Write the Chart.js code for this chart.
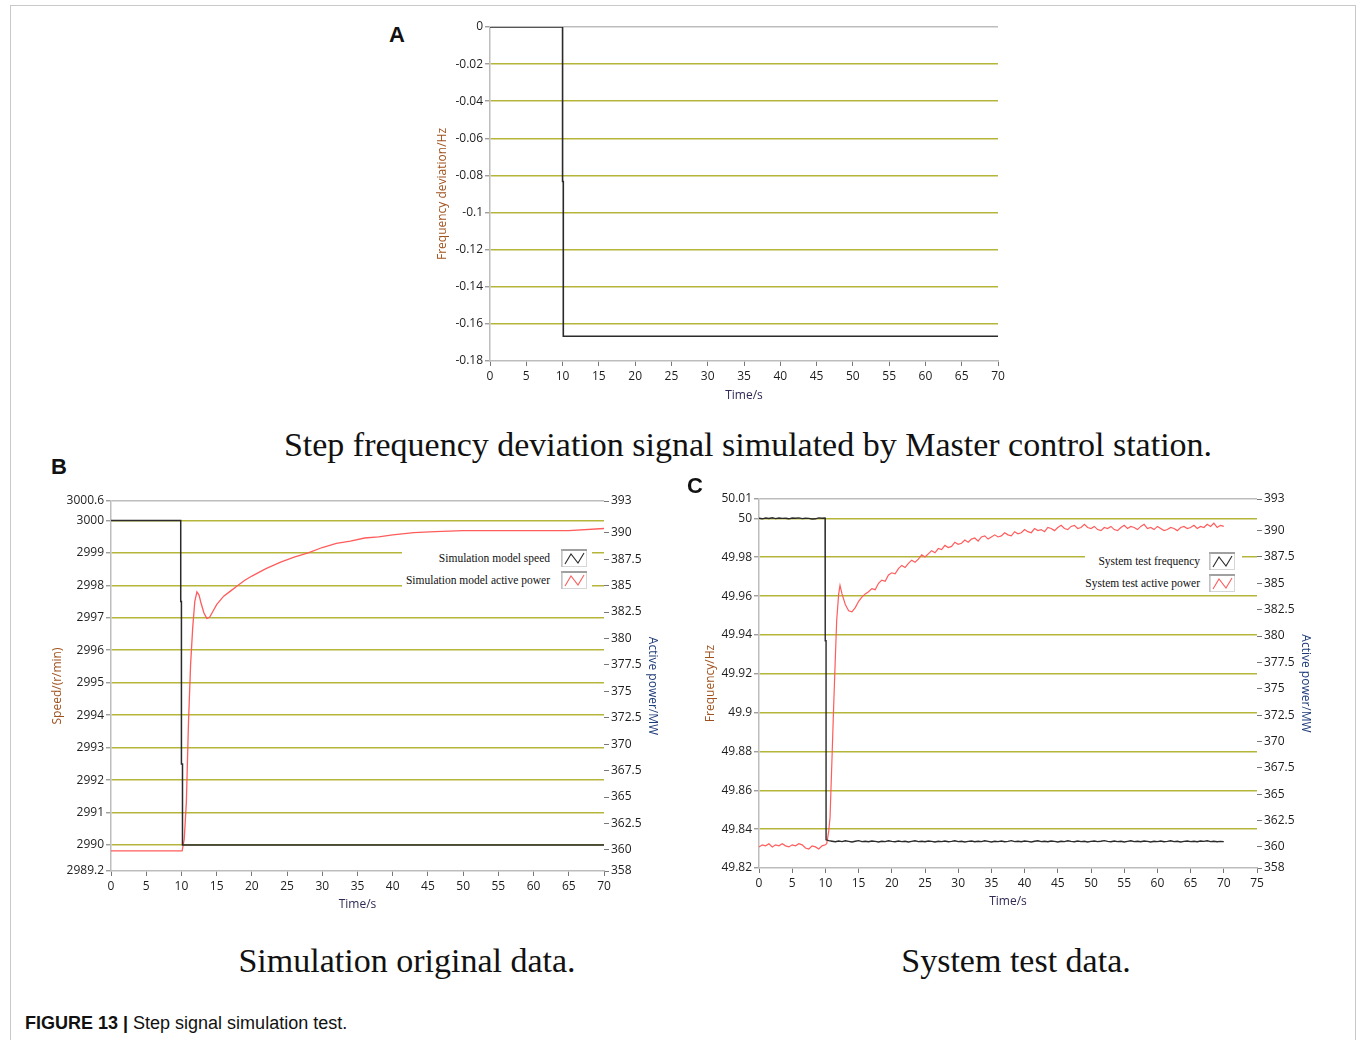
<!DOCTYPE html>
<html>
<head>
<meta charset="utf-8">
<title>Step signal simulation test</title>
<script src="https://cdn.jsdelivr.net/npm/chart.js@4.4.1/dist/chart.umd.min.js"></script>
<style>
  body { margin: 0; background: #fff; width: 1357px; height: 1040px; position: relative; overflow: hidden; }
  .frame { position: absolute; left: 10px; top: 5px; width: 1344px; height: 1060px; border: 1px solid #c9c9c9; }
  canvas { position: absolute; }
  .panel { position: absolute; font: bold 22px "Liberation Sans", Arial, sans-serif; color: #111; transform: translate(-50%, -50%); }
  .sub { position: absolute; font: 34px "Liberation Serif", "Times New Roman", serif; color: #111; transform: translate(-50%, -50%); white-space: nowrap; }
  .legend { position: absolute; background: #fff; }
  .legend span { position: absolute; font: 11.5px "Liberation Serif", "Times New Roman", serif; color: #111; white-space: nowrap; transform: translateY(-50%); }
  .legend svg { position: absolute; }
  .caption { position: absolute; left: 25px; top: 1013px; font: 18px "Liberation Sans", Arial, sans-serif; color: #111; white-space: nowrap; }
</style>
</head>
<body>
<div class="frame"></div>

<canvas id="chartA" width="575" height="388" style="left:435px;top:15px"></canvas>
<canvas id="chartB" width="610" height="422" style="left:50px;top:490px"></canvas>
<canvas id="chartC" width="610" height="421" style="left:703px;top:488px"></canvas>

<div class="panel" style="left:397px;top:35px">A</div>
<div class="panel" style="left:59px;top:467px">B</div>
<div class="panel" style="left:695px;top:486px">C</div>

<div class="sub" style="left:748px;top:445px">Step frequency deviation signal simulated by Master control station.</div>
<div class="sub" style="left:407px;top:961px">Simulation original data.</div>
<div class="sub" style="left:1016px;top:961px">System test data.</div>

<div id="legendB" class="legend" style="left:402px;top:541px;width:190px;height:53px"></div>
<div id="legendC" class="legend" style="left:1085px;top:545px;width:157px;height:49px"></div>

<div class="caption"><b>FIGURE 13 |</b> Step signal simulation test.</div>

<script>
// ---- data (A) step frequency deviation ----
const timeA = [0, 10, 10, 10.1, 10.1, 70];
const freqDevA = [0, 0, -0.0833, -0.0833, -0.1667, -0.1667];
const ticksA = [0, -0.02, -0.04, -0.06, -0.08, -0.1, -0.12, -0.14, -0.16, -0.18];

// ---- data (B) simulation ----
const speedTimeB = [0, 9.9, 9.9, 10, 10, 10.15, 10.15, 70];
const speedB = [3000, 3000, 2997.5, 2997.5, 2992.5, 2992.5, 2990, 2990];
const powerTimeB = [0, 10.1, 10.4, 10.7, 11.0, 11.3, 11.6, 11.9, 12.2, 12.5, 12.8, 13.2, 13.6, 14.0, 14.5, 15.0,
  16, 17, 18, 19, 20, 22, 24, 26, 28, 30, 32, 34, 36, 38, 40, 43, 46, 50, 55, 60, 65, 70];
const powerB = [359.9, 359.9, 361.0, 364.5, 372.0, 377.5, 381.0, 383.5, 384.4, 384.1, 383.3, 382.4, 381.9, 382.0, 382.6, 383.2,
  384.0, 384.5, 385.0, 385.5, 385.9, 386.6, 387.2, 387.7, 388.1, 388.6, 389.0, 389.2, 389.5, 389.6, 389.8, 390.0, 390.1, 390.2, 390.2, 390.2, 390.2, 390.4];
const speedTicksB = [2989.2, 2990, 2991, 2992, 2993, 2994, 2995, 2996, 2997, 2998, 2999, 3000, 3000.6];

// ---- data (C) system test ----
const timeGridC = [0,0.5,1,1.5,2,2.5,3,3.5,4,4.5,5,5.5,6,6.5,7,7.5,8,8.5,9,9.5,10,10.5,11,11.5,12,12.5,13,13.5,14,14.5,
  15,15.5,16,16.5,17,17.5,18,18.5,19,19.5,20,20.5,21,21.5,22,22.5,23,23.5,24,24.5,25,25.5,26,26.5,27,27.5,28,28.5,29,29.5,
  30,30.5,31,31.5,32,32.5,33,33.5,34,34.5,35,35.5,36,36.5,37,37.5,38,38.5,39,39.5,40,40.5,41,41.5,42,42.5,43,43.5,44,44.5,
  45,45.5,46,46.5,47,47.5,48,48.5,49,49.5,50,50.5,51,51.5,52,52.5,53,53.5,54,54.5,55,55.5,56,56.5,57,57.5,58,58.5,59,59.5,
  60,60.5,61,61.5,62,62.5,63,63.5,64,64.5,65,65.5,66,66.5,67,67.5,68,68.5,69,69.5,70];
const freqC = [
  50.0001, 49.9998, 50.0002, 50.0000, 50.0003, 49.9999, 50.0002, 50.0000, 50.0001, 49.9998,
  50.0002, 50.0001, 50.0003, 49.9999, 50.0001, 50.0000, 49.9997, 49.9998, 50.0003, 50.0001,
  49.9370,
  49.8341, 49.8338, 49.8335, 49.8339, 49.8336, 49.8340, 49.8337, 49.8334, 49.8338, 49.8341,
  49.8336, 49.8338, 49.8335, 49.8339, 49.8337, 49.8334, 49.8338, 49.8336, 49.8340, 49.8337,
  49.8335, 49.8339, 49.8336, 49.8338, 49.8334, 49.8337, 49.8340, 49.8336, 49.8338, 49.8335,
  49.8339, 49.8337, 49.8334, 49.8338, 49.8336, 49.8339, 49.8335, 49.8337, 49.8340, 49.8336,
  49.8338, 49.8334, 49.8337, 49.8339, 49.8335, 49.8338, 49.8336, 49.8340, 49.8337, 49.8334,
  49.8338, 49.8336, 49.8339, 49.8335, 49.8337, 49.8341, 49.8336, 49.8338, 49.8335, 49.8339,
  49.8337, 49.8334, 49.8338, 49.8340, 49.8336, 49.8338, 49.8335, 49.8339, 49.8337, 49.8334,
  49.8338, 49.8336, 49.8340, 49.8337, 49.8335, 49.8339, 49.8336, 49.8338, 49.8334, 49.8337,
  49.8339, 49.8336, 49.8338, 49.8341, 49.8337, 49.8335, 49.8339, 49.8336, 49.8338, 49.8334,
  49.8337, 49.8340, 49.8336, 49.8338, 49.8335, 49.8339, 49.8337, 49.8334, 49.8338, 49.8336,
  49.8339, 49.8335, 49.8337, 49.8340, 49.8336, 49.8338, 49.8334, 49.8337, 49.8339, 49.8336,
  49.8338, 49.8335, 49.8339, 49.8337, 49.8340, 49.8336, 49.8338, 49.8335, 49.8337, 49.8336];
const freqStepTimeC = [9.95, 9.95, 10.1, 10.1];
const freqStepC = [50.0002, 49.9370, 49.9370, 49.8345];
const powerC = [
  360.0, 360.2, 360.1, 360.3, 360.0, 360.2, 360.1, 360.3, 360.1, 360.0,
  360.2, 360.1, 360.3, 360.2, 359.9, 359.8, 360.1, 360.0, 359.8, 360.1, 360.2,
  361.5, 368.5, 378.0, 384.0, 384.0, 383.0, 382.4, 382.3, 382.7, 383.3,
  383.7, 384.0, 384.2, 384.5, 384.4, 385.0, 385.3, 385.2, 385.8, 386.0,
  385.9, 386.4, 386.7, 386.5, 386.9, 387.2, 387.0, 387.3, 387.7, 387.5,
  387.8, 388.1, 387.9, 388.3, 388.2, 388.6, 388.4, 388.5, 388.9, 388.7,
  388.8, 389.1, 388.9, 389.2, 389.3, 389.0, 389.4, 389.5, 389.2, 389.4,
  389.6, 389.4, 389.5, 389.8, 389.6, 389.5, 389.9, 389.7, 389.8, 390.1,
  389.9, 389.8, 390.2, 390.0, 390.1, 389.9, 390.3, 390.2, 390.0, 390.3,
  390.5, 390.2, 390.1, 390.4, 390.5, 390.2, 390.3, 390.6, 390.3, 390.2,
  390.4, 390.1, 390.0, 390.3, 390.2, 390.4, 390.1, 390.0, 390.3, 390.5,
  390.2, 390.4, 390.3, 390.1, 390.4, 390.6, 390.2, 390.3, 390.1, 390.4,
  390.2, 390.0, 390.1, 390.3, 390.2, 390.0, 390.3, 390.4, 390.2, 390.3,
  390.5, 390.2, 390.4, 390.3, 390.6, 390.4, 390.7, 390.3, 390.5, 390.4];
const powerRiseTimeC = [10.2, 10.7, 11.2, 11.7, 12.2];
const powerRiseC = [360.3, 362.8, 372.5, 381.5, 384.8];
const freqTicksC = [49.82, 49.84, 49.86, 49.88, 49.9, 49.92, 49.94, 49.96, 49.98, 50, 50.01];

// shared right axis (active power, MW)
const powerTicks = [358, 360, 362.5, 365, 367.5, 370, 372.5, 375, 377.5, 380, 382.5, 385, 387.5, 390, 393];

// ---- styles ----
const GRID_OLIVE = "#b5b53a";
const FRAME_GRAY = "#bdbdbd";
const TICK_FONT = { family: "'Open Sans', 'DejaVu Sans', sans-serif", size: 12 };
const TITLE_FONT = { family: "'Open Sans', 'DejaVu Sans', sans-serif", size: 12 };
const TICK_TEXT = "#1e1e1e";
const BLACK_LINE = "#2b2b2b";
const RED_LINE = "#ff5c5c";

function toPoints(xs, ys) {
  return xs.map((x, i) => ({ x: x, y: ys[i] }));
}

// merge extra points into a grid series, keep order for equal x
function mergeSorted(a, b) {
  return a.concat(b).sort((p, q) => p.x - q.x);
}

function fixedTicks(list) {
  return scale => { scale.ticks = list.map(v => ({ value: v })); };
}

// top line gray like the plot frame, bottom hidden (x border draws it)
function gridColor(top, bottom) {
  return ctx => {
    const v = ctx.tick ? ctx.tick.value : null;
    if (v === top) return FRAME_GRAY;
    if (v === bottom) return "rgba(0,0,0,0)";
    return GRID_OLIVE;
  };
}

function timeAxis(max, height) {
  return {
    type: "linear", min: 0, max: max,
    ticks: { stepSize: 5, color: TICK_TEXT, font: TICK_FONT, padding: 3, maxRotation: 0, autoSkip: false, callback: v => String(v) },
    grid: { drawOnChartArea: false, tickLength: 5, tickColor: "#777", tickWidth: 1 },
    border: { color: FRAME_GRAY, width: 1.5 },
    title: { display: true, text: "Time/s", color: "#2f2a55", font: TITLE_FONT, padding: 0 },
    afterFit: s => { s.height = height; }
  };
}

function leftAxis(min, max, list, title, width) {
  return {
    position: "left", min: min, max: max,
    afterBuildTicks: fixedTicks(list),
    ticks: { color: TICK_TEXT, font: TICK_FONT, padding: 2, autoSkip: false, callback: v => String(v) },
    grid: { color: gridColor(max, min), lineWidth: 1.6, tickLength: 5, tickColor: "#777", tickWidth: 1 },
    border: { color: FRAME_GRAY, width: 1.5 },
    title: { display: true, text: title, color: "#a0521e", font: TITLE_FONT, padding: 0 },
    afterFit: s => { s.width = width; }
  };
}

function powerAxis(width) {
  return {
    position: "right", min: 358, max: 393,
    afterBuildTicks: fixedTicks(powerTicks),
    ticks: { color: TICK_TEXT, font: TICK_FONT, padding: 2, autoSkip: false, callback: v => String(v) },
    grid: { drawOnChartArea: false, tickLength: 5, tickColor: "#777", tickWidth: 1 },
    border: { display: false },
    title: { display: true, text: "Active power/MW", color: "#1e3c78", font: TITLE_FONT, padding: 0 },
    afterFit: s => { s.width = width; }
  };
}

function lineSet(points, color, width, axisId) {
  return {
    data: points, borderColor: color, borderWidth: width, pointRadius: 0,
    tension: 0, fill: false, yAxisID: axisId || "y"
  };
}

function baseOptions(padding, scales) {
  return {
    responsive: false, animation: false, devicePixelRatio: 1,
    layout: { padding: padding },
    plugins: { legend: { display: false }, tooltip: { enabled: false } },
    scales: scales
  };
}

// ---- chart A ----
new Chart(document.getElementById("chartA"), {
  type: "line",
  data: { datasets: [lineSet(toPoints(timeA, freqDevA), BLACK_LINE, 1.6)] },
  options: baseOptions({ top: 12, right: 12, left: 0, bottom: 0 }, {
    x: timeAxis(70, 42),
    y: leftAxis(-0.18, 0, ticksA, "Frequency deviation/Hz", 55)
  })
});

// ---- chart B ----
new Chart(document.getElementById("chartB"), {
  type: "line",
  data: {
    datasets: [
      lineSet(toPoints(speedTimeB, speedB), BLACK_LINE, 1.5),
      lineSet(toPoints(powerTimeB, powerB), RED_LINE, 1.3, "y1")
    ]
  },
  options: baseOptions({ top: 11, right: 0, left: 0, bottom: 0 }, {
    x: timeAxis(70, 41),
    y: leftAxis(2989.2, 3000.6, speedTicksB, "Speed/(r/min)", 61),
    y1: powerAxis(56)
  })
});

// ---- chart C ----
const freqPointsC = mergeSorted(toPoints(timeGridC, freqC), toPoints(freqStepTimeC, freqStepC));
const powerPointsC = mergeSorted(toPoints(timeGridC, powerC), toPoints(powerRiseTimeC, powerRiseC));

new Chart(document.getElementById("chartC"), {
  type: "line",
  data: {
    datasets: [
      lineSet(freqPointsC, BLACK_LINE, 1.4),
      lineSet(powerPointsC, RED_LINE, 1.2, "y1")
    ]
  },
  options: baseOptions({ top: 11, right: 0, left: 0, bottom: 0 }, {
    x: timeAxis(75, 41),
    y: leftAxis(49.82, 50.01, freqTicksC, "Frequency/Hz", 56),
    y1: powerAxis(56)
  })
});

// ---- in-plot legends (LabVIEW style) ----
function legendIcon(color) {
  return '<svg width="26" height="18" viewBox="0 0 26 18">' +
    '<rect x="0.5" y="0.5" width="25" height="17" fill="#fff" stroke="#d6d6d6"/>' +
    '<line x1="0" y1="1" x2="26" y2="1" stroke="#a0a0a0" stroke-width="2"/>' +
    '<line x1="1" y1="0" x2="1" y2="18" stroke="#b0b0b0" stroke-width="1"/>' +
    '<polyline points="4,15 10,5 17,14 23,4" fill="none" stroke="' + color + '" stroke-width="1.1"/>' +
    '</svg>';
}

function buildLegend(id, labels, colors, textRight, iconLeft, rowY) {
  const box = document.getElementById(id);
  if (!box) return;
  labels.forEach((label, i) => {
    const span = document.createElement("span");
    span.textContent = label;
    span.style.right = textRight + "px";
    span.style.top = rowY[i] + "px";
    box.appendChild(span);

    const wrap = document.createElement("div");
    wrap.innerHTML = legendIcon(colors[i]);
    const svg = wrap.firstChild;
    svg.style.left = iconLeft + "px";
    svg.style.top = (rowY[i] - 9) + "px";
    box.appendChild(svg);
  });
}

buildLegend("legendB", ["Simulation model speed", "Simulation model active power"],
  [BLACK_LINE, RED_LINE], 42, 159, [17, 39]);
buildLegend("legendC", ["System test frequency", "System test active power"],
  [BLACK_LINE, RED_LINE], 42, 124, [16, 38]);
</script>
</body>
</html>
